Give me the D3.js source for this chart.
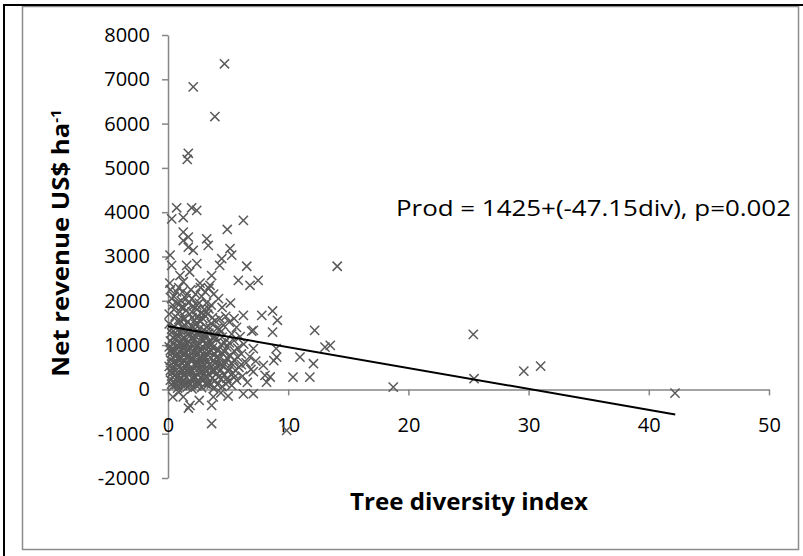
<!DOCTYPE html>
<html>
<head>
<meta charset="utf-8">
<script src="https://cdn.jsdelivr.net/npm/d3@7"></script>
<style>
  html, body { margin: 0; padding: 0; background: #fff; }
  svg { display: block; }
  text { font-family: "Open Sans", "DejaVu Sans", sans-serif; fill: #000; }
</style>
</head>
<body>
<svg id="chart" width="803" height="556"></svg>
<script>
// ---- data ----
const xTicks = [0, 10, 20, 30, 40, 50];
const yTicks = [-2000, -1000, 0, 1000, 2000, 3000, 4000, 5000, 6000, 7000, 8000];
const xTitle = "Tree diversity index";
const yTitle = "Net revenue US$ ha";
const yTitleSup = "-1";
const equation = "Prod = 1425+(-47.15div), p=0.002";
const trendIntercept = 1425;
const trendSlope = -47.15;
const trendRange = [0, 42.2];

// [tree diversity index, net revenue US$/ha]
const outliersHigh = [
  [4.7,7350],[2.1,6830],[3.9,6160],[1.69,5330],[1.6,5190],
  [0.72,4100],[1.97,4100],[2.39,4040],[0.31,3850],[1.27,3880],[4.93,3610],[6.27,3815],
  [1.27,3550],[1.69,3440],[1.27,3360],[3.22,3400],[3.35,3250],[1.69,3210],[2.1,3140],
  [5.16,3180],[4.47,2950],[0.17,3030],[5.3,3030],[0.3,2800],[1.55,2800],[2.4,2840],
  [4.3,2800],[6.55,2780],[1.0,2570],[1.8,2650],[3.63,2570],[5.85,2460],[6.82,2350],
  [7.5,2460],[0.15,2400],[1.27,2430],[2.66,2400],[3.5,2350]
];
const upperBand = [
  [0.2,2250],[0.5,2100],[0.9,2300],[1.2,2200],[1.5,2050],[1.9,2250],[2.3,2150],[2.7,2300],
  [3.1,2200],[3.4,2280],[3.8,2150],[4.2,2050],[0.4,1900],[0.8,1950],[1.3,1850],[1.7,1950],
  [2.1,1880],[2.6,1950],[3.0,1800],[3.6,1900],[4.5,1850],[5.2,1950],[0.1,1700],[0.6,1650],
  [1.0,1750],[1.4,1600],[1.8,1700],[2.2,1550],[2.5,1650],[2.9,1600],[3.3,1700],[3.9,1550],
  [4.8,1650],[5.5,1600],[6.27,1670],[7.8,1670],[8.7,1770],[9.1,1560],[1.2,1600],
  [0.3,2050],[0.7,2200],[1.1,2000],[1.6,2150],[2.0,2050],[2.4,1900],[2.8,2100],[3.2,1950],
  [0.5,1800],[1.1,1850],[1.5,1780],[2.0,1750],[2.4,1800],[2.8,1720],[3.4,1820],[0.9,1580],
  [1.6,1520],[2.0,1620],[2.6,1560],[3.0,1690],[3.7,1620],[4.3,1600]
];
const coreCluster = [
  [0.1,1480],[0.5,1420],[0.9,1510],[1.4,1440],[1.8,1390],[2.3,1470],[2.7,1530],[3.2,1410],[3.6,1490],[4.1,1380],[4.6,1450],[5.1,1520],[5.7,1400],
  [0.3,1360],[0.8,1330],[1.2,1390],[1.7,1350],[2.1,1410],[2.6,1370],[3.0,1340],[3.5,1390],[4.3,1360],
  [0.3,1280],[0.7,1220],[1.1,1310],[1.6,1240],[2.0,1180],[2.5,1290],[2.9,1230],[3.4,1270],[3.9,1200],[4.4,1300],[5.3,1250],[6.0,1190],
  [0.4,1170],[0.9,1200],[1.4,1160],[1.9,1230],[2.3,1190],[2.8,1150],[3.2,1210],[3.7,1170],[4.5,1180],
  [0.2,1090],[0.6,1130],[1.0,1060],[1.3,1150],[1.7,1080],[2.2,1120],[2.6,1040],[3.0,1110],[3.5,1070],[4.0,1140],[4.7,1050],[5.5,1100],[6.3,1020],
  [0.5,1030],[1.1,1000],[1.6,1040],[2.0,1010],[2.5,990],[3.1,1030],[3.6,1000],[4.4,1010],[5.1,1050],
  [0.1,960],[0.4,920],[0.8,990],[1.2,940],[1.5,1000],[1.9,930],[2.4,970],[2.8,910],[3.3,980],[3.7,940],[4.2,900],[4.9,960],[5.8,930],
  [0.2,880],[0.6,860],[1.2,870],[1.6,900],[2.3,880],[2.7,860],[3.6,870],[4.1,880],[4.7,850],[5.5,870],
  [0.3,820],[0.7,780],[1.0,840],[1.4,790],[1.8,760],[2.1,830],[2.5,800],[3.0,770],[3.4,850],[3.9,790],[4.5,820],[5.2,760],[6.1,800],[6.8,740],
  [0.4,720],[0.8,700],[1.5,730],[1.9,710],[2.2,740],[2.6,700],[3.5,730],[4.0,720],[4.9,710],[5.8,730],
  [0.2,660],[0.5,620],[0.9,690],[1.3,640],[1.6,600],[2.0,670],[2.4,630],[2.9,680],[3.3,610],[3.8,650],[4.3,700],[4.8,620],[5.5,660],[6.5,600],[7.3,640],
  [0.3,570],[0.7,590],[1.2,580],[1.7,560],[2.5,580],[3.0,570],[3.4,560],[3.9,590],[4.4,560],[5.3,580],[6.1,560],
  [0.1,520],[0.4,480],[0.8,540],[1.1,470],[1.5,510],[1.9,450],[2.3,530],[2.7,490],[3.1,460],[3.6,520],[4.0,480],[4.6,540],[5.1,470],[5.9,500],[6.9,450],
  [0.2,430],[0.6,410],[1.2,420],[1.6,430],[2.0,400],[2.4,440],[2.8,410],[3.2,430],[3.8,410],[4.4,440],[5.0,410],[5.6,430],
  [0.3,370],[0.6,330],[1.0,390],[1.4,320],[1.8,360],[2.2,300],[2.6,380],[3.0,340],[3.5,310],[4.1,370],[4.7,330],[5.4,360],[6.2,300],
  [0.4,270],[0.8,280],[1.1,260],[1.5,270],[2.3,270],[2.7,260],[3.2,280],[3.7,260],[4.2,280],[4.9,250],[5.5,270],
  [0.2,210],[0.5,170],[0.9,230],[1.3,190],[1.7,150],[2.1,220],[2.5,180],[2.9,240],[3.4,160],[3.9,200],[4.4,230],[5.0,170],[5.7,210],[6.6,160],
  [0.3,120],[0.7,110],[1.0,140],[1.4,110],[1.9,120],[2.2,130],[2.6,110],[3.1,130],[3.6,120],[4.1,110],[4.8,130],
  [0.4,70],[0.8,30],[1.2,90],[1.6,50],[2.0,10],[2.4,80],[2.8,40],[3.3,100],[3.8,20],[4.5,60],[5.3,90],
  [1.1,700],[1.7,880],[2.3,560],[2.7,720],[3.2,890],[1.5,420],[2.0,260],[2.8,600],[3.6,420],
  [1.3,1010],[2.6,900],[3.1,700],[0.6,760],[0.7,580],[4.2,580],[3.0,1200],[2.2,1350]
];
const belowZero = [
  [1.27,-170],[1.83,-360],[1.7,-420],[3.77,-170],[3.63,-360],[6.27,-100],[7.1,-97],
  [3.63,-770],[0.4,-170],[2.6,-250],[5.0,-150],[0.9,-60],[4.4,-80],[9.87,-925]
];
const outliersRight = [
  [6.96,1316],[7.1,1332],[8.7,1293],[12.2,1332],[7.1,919],[9.0,919],[9.04,729],[8.8,650],
  [13.06,955],[13.5,993],[10.98,729],[12.1,580],[10.4,278],[11.8,278],[7.93,542],[8.07,316],
  [8.5,280],[7.1,400],[8.2,165],[14.08,2780],[18.74,52],[25.4,1242],[25.46,241],[29.6,413],
  [31.0,526],[42.18,-83]
];
const observations = [].concat(outliersHigh, upperBand, coreCluster, belowZero, outliersRight);

// ---- drawing ----
const svg = d3.select("#chart");
const axisColor = "#868686";
const markColor = "#5a5a5a";

// frame
svg.append("rect").attr("x", 22.5).attr("y", 6.5).attr("width", 776).attr("height", 543)
  .attr("fill", "none").attr("stroke", "#8c8c8c").attr("stroke-width", 1.5);
svg.append("line").attr("x1", 4).attr("x2", 4).attr("y1", 4).attr("y2", 556)
  .attr("stroke", "#000").attr("stroke-width", 2);
svg.append("line").attr("x1", 3).attr("x2", 803).attr("y1", 5).attr("y2", 5)
  .attr("stroke", "#000").attr("stroke-width", 2);

const x = d3.scaleLinear().domain([0, 50]).range([168, 769]);
const y = d3.scaleLinear().domain([-2000, 8000]).range([478, 35]);
const fmt = d => String(d);

// y axis
const yAxis = svg.append("g").attr("transform", `translate(${x(0)},0)`)
  .call(d3.axisLeft(y).tickValues(yTicks).tickSize(6).tickSizeOuter(0).tickPadding(12).tickFormat(fmt));
yAxis.selectAll("path, line").attr("stroke", axisColor).attr("stroke-width", 1.5);
yAxis.selectAll("text").style("font-size", "20px").style("font-family", '"Open Sans", sans-serif').attr("fill", "#000");

// x axis at y = 0
const xAxis = svg.append("g").attr("transform", `translate(0,${y(0)})`)
  .call(d3.axisBottom(x).tickValues(xTicks).tickSize(6).tickSizeOuter(0).tickPadding(22).tickFormat(fmt));
xAxis.selectAll("path, line").attr("stroke", axisColor).attr("stroke-width", 1.5);
xAxis.selectAll("text").style("font-size", "20px").style("font-family", '"Open Sans", sans-serif').attr("fill", "#000");

// markers
const s = 4.6;
svg.append("g").selectAll("path").data(observations).join("path")
  .attr("transform", d => `translate(${x(d[0])},${y(d[1])})`)
  .attr("d", `M${-s},${-s}L${s},${s}M${-s},${s}L${s},${-s}`)
  .attr("stroke", markColor).attr("stroke-width", 1.5).attr("fill", "none");

// trend line
const trend = trendRange.map(v => [v, trendIntercept + trendSlope * v]);
svg.append("path").attr("d", d3.line().x(d => x(d[0])).y(d => y(d[1]))(trend))
  .attr("stroke", "#000").attr("stroke-width", 2).attr("fill", "none");

// equation
svg.append("text").attr("x", 396).attr("y", 216).attr("textLength", 395).attr("lengthAdjust", "spacingAndGlyphs")
  .style("font-size", "21px").text(equation);

// axis titles
svg.append("text").attr("x", 469).attr("y", 510).attr("text-anchor", "middle")
  .attr("textLength", 238).attr("lengthAdjust", "spacingAndGlyphs")
  .style("font-size", "23px").style("font-weight", "bold").text(xTitle);

const yt = svg.append("text").attr("transform", "translate(69,243) rotate(-90)")
  .attr("text-anchor", "middle").style("font-size", "23px").style("font-weight", "bold");
yt.append("tspan").attr("textLength", 254).attr("lengthAdjust", "spacingAndGlyphs").text(yTitle);
yt.append("tspan").attr("dy", "-0.55em").style("font-size", "15px").text(yTitleSup);
</script>
</body>
</html>
